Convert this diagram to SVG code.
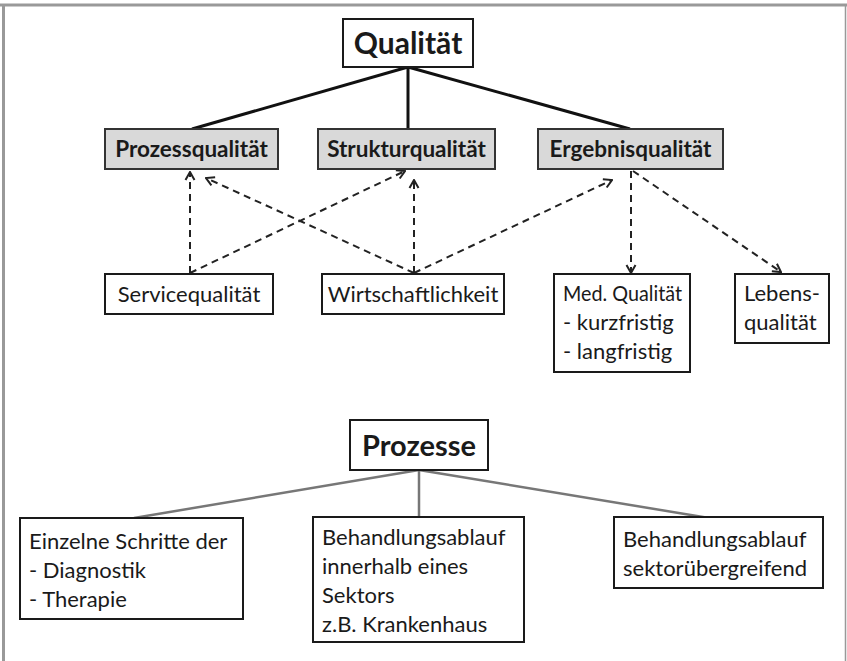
<svg xmlns="http://www.w3.org/2000/svg" width="847" height="661" viewBox="0 0 847 661">
<defs>
<style>
.box{fill:#fff;stroke:#1a1a1a;stroke-width:2}
.gbox{fill:#d9d9d9;stroke:#333;stroke-width:2}
.t{font-family:Lato,"Liberation Sans",sans-serif;font-size:22px;fill:#1a1a1a}
.tb{font-family:Lato,"Liberation Sans",sans-serif;font-weight:bold;font-size:22.5px;fill:#1a1a1a}
.th{font-family:Lato,"Liberation Sans",sans-serif;font-weight:bold;font-size:30px;fill:#1a1a1a}
.solid{stroke:#111;stroke-width:3;fill:none}
.grey{stroke:#777;stroke-width:2.5;fill:none}
.dash{stroke:#222;stroke-width:2;stroke-dasharray:7,5;fill:none;marker-end:url(#ah)}
</style>
<marker id="ah" viewBox="0 0 12 12" refX="11" refY="6" markerWidth="12" markerHeight="12" markerUnits="userSpaceOnUse" orient="auto">
<path d="M3,1.5 L11,6 L3,10.5" fill="none" stroke="#222" stroke-width="2"/>
</marker>
</defs>
<rect width="847" height="661" fill="#fff"/>
<g id="frame" stroke="#999" fill="none">
<line x1="0" y1="5" x2="847" y2="5" stroke-width="3"/>
<line x1="3.5" y1="4" x2="3.5" y2="661" stroke-width="3"/>
<line x1="845.5" y1="4" x2="845.5" y2="661" stroke-width="1.5"/>
</g>
<g id="connectors">
<line class="solid" x1="408" y1="67" x2="192" y2="129"/>
<line class="solid" x1="408" y1="67" x2="408" y2="129"/>
<line class="solid" x1="408" y1="67" x2="630" y2="129"/>
<line class="dash" x1="190" y1="273" x2="190" y2="172"/>
<line class="dash" x1="190" y1="273" x2="405" y2="171"/>
<line class="dash" x1="414" y1="273" x2="206" y2="178"/>
<line class="dash" x1="414" y1="273" x2="414" y2="180"/>
<line class="dash" x1="414" y1="273" x2="612" y2="180"/>
<line class="dash" x1="631" y1="171" x2="631" y2="273"/>
<line class="dash" x1="633" y1="171" x2="781" y2="272"/>
<line class="grey" x1="419" y1="470" x2="134" y2="518"/>
<line class="grey" x1="419" y1="470" x2="419" y2="517"/>
<line class="grey" x1="419" y1="470" x2="709" y2="518"/>
</g>
<g id="qualitaet"><rect class="box" x="343" y="19" width="130" height="48"/><text class="th" x="408" y="54" text-anchor="middle">Qualität</text></g>
<g id="prozessqualitaet"><rect class="gbox" x="105" y="129" width="173" height="40"/><text class="tb" x="191.5" y="157" text-anchor="middle">Prozessqualität</text></g>
<g id="strukturqualitaet"><rect class="gbox" x="318" y="129" width="177" height="40"/><text class="tb" x="406.5" y="157" text-anchor="middle">Strukturqualität</text></g>
<g id="ergebnisqualitaet"><rect class="gbox" x="538" y="129" width="185" height="40"/><text class="tb" x="630.5" y="157" text-anchor="middle">Ergebnisqualität</text></g>
<g id="servicequalitaet"><rect class="box" x="105" y="274" width="168" height="40"/><text class="t" x="189" y="302" text-anchor="middle">Servicequalität</text></g>
<g id="wirtschaftlichkeit"><rect class="box" x="322" y="274" width="182" height="40"/><text class="t" x="413" y="302" text-anchor="middle">Wirtschaftlichkeit</text></g>
<g id="medqualitaet"><rect class="box" x="554" y="274" width="136" height="98"/><text class="t" x="563" y="301" textLength="119" lengthAdjust="spacingAndGlyphs">Med. Qualität</text><text class="t" x="563" y="330">- kurzfristig</text><text class="t" x="563" y="359">- langfristig</text></g>
<g id="lebensqualitaet"><rect class="box" x="735" y="274" width="94" height="69"/><text class="t" x="744" y="301">Lebens-</text><text class="t" x="744" y="330">qualität</text></g>
<g id="prozesse"><rect class="box" x="350" y="420" width="138" height="50"/><text class="th" x="419" y="456" text-anchor="middle" style="font-size:29px">Prozesse</text></g>
<g id="einzelne"><rect class="box" x="20" y="518" width="223" height="101"/><text class="t" x="29" y="549">Einzelne Schritte der</text><text class="t" x="29" y="578">- Diagnostik</text><text class="t" x="29" y="607">- Therapie</text></g>
<g id="innerhalb"><rect class="box" x="313" y="517" width="211" height="125"/><text class="t" x="322" y="545">Behandlungsablauf</text><text class="t" x="322" y="574">innerhalb eines</text><text class="t" x="322" y="603">Sektors</text><text class="t" x="322" y="632">z.B. Krankenhaus</text></g>
<g id="sektoruebergreifend"><rect class="box" x="614" y="517" width="209" height="71"/><text class="t" x="623" y="547">Behandlungsablauf</text><text class="t" x="623" y="576">sektorübergreifend</text></g>
</svg>
